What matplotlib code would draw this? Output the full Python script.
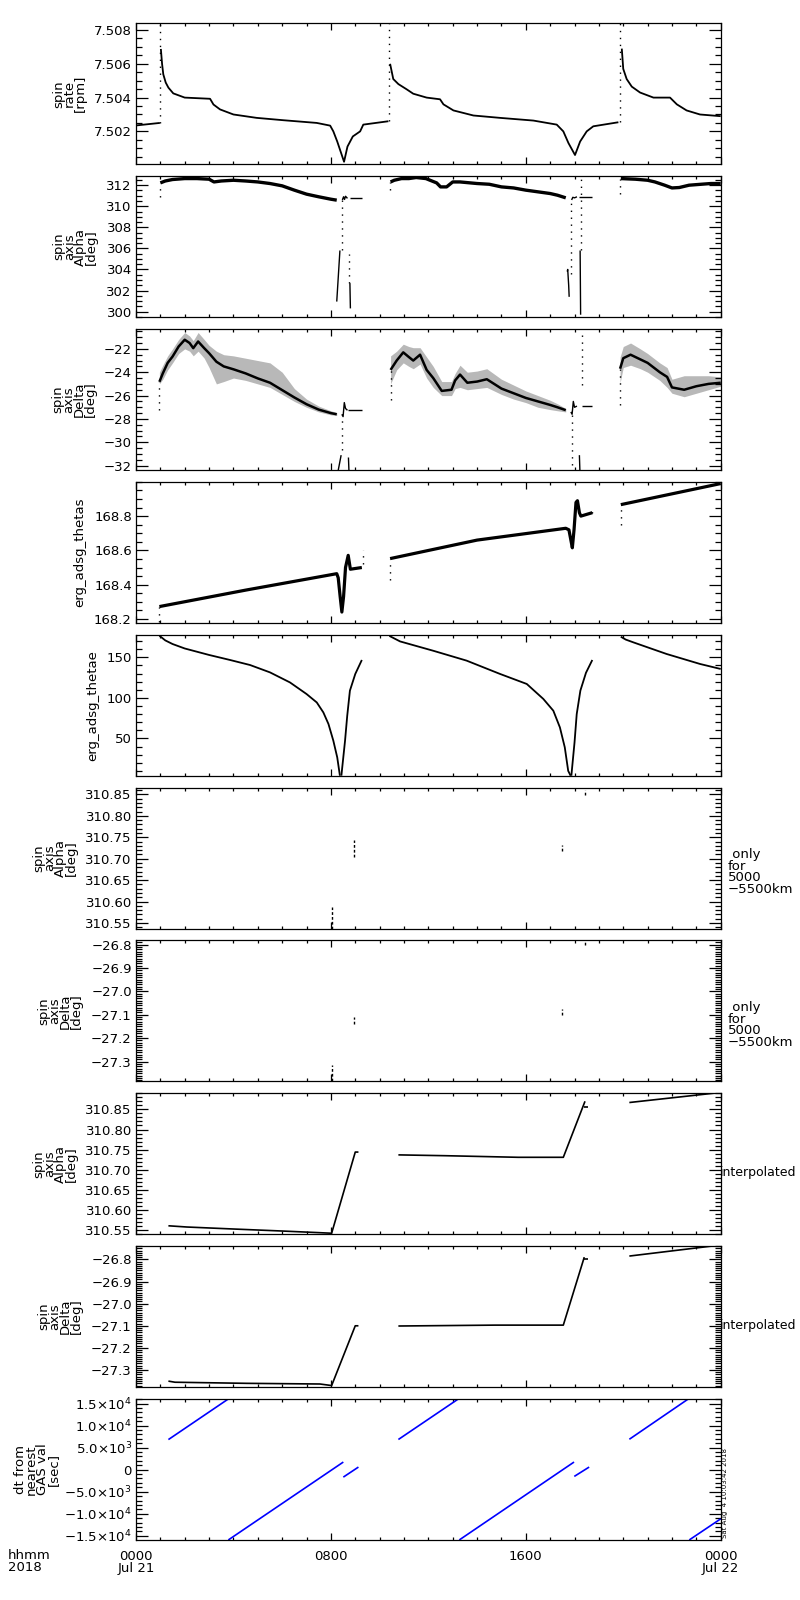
import matplotlib
matplotlib.use('Agg')
import matplotlib.pyplot as plt
from matplotlib.ticker import FixedLocator, FixedFormatter, MultipleLocator

plt.rcParams['font.family'] = ['DejaVu Sans']
plt.rcParams['font.size'] = 9.5
plt.rcParams['axes.linewidth'] = 0.9

M = '\u2212'

# x axis (hours of Jul 21 2018)
hour_major = [0, 8, 16, 24]
hour_labels = ['0000\nJul 21', '0800', '1600', '0000\nJul 22']

# panel 1: spin rate [rpm]
rate_t0 = [0.0, 0.98]
rate_v0 = [7.50235, 7.5025]
rate_t1 = [1.02, 1.07, 1.12, 1.22, 1.33, 1.53, 2.0, 3.04, 3.18, 3.45, 4.0, 4.95, 6.05, 7.42,
           7.97, 8.1, 8.26, 8.4, 8.54, 8.68, 8.9, 9.2, 9.33, 10.36]
rate_v1 = [7.50688, 7.5060, 7.50538, 7.50489, 7.50459, 7.50425, 7.5040, 7.50393, 7.50359, 7.5033,
           7.5030, 7.5028, 7.50266, 7.5025, 7.50234, 7.5020, 7.5014, 7.5008, 7.5002, 7.5011,
           7.5017, 7.5020, 7.5024, 7.5026]
rate_t2 = [10.43, 10.56, 10.77, 11.11, 11.38, 11.93, 12.48, 12.62, 13.03, 13.85, 14.94, 16.31,
           17.27, 17.54, 17.75, 18.02, 18.23, 18.5, 18.77, 19.8]
rate_v2 = [7.5060, 7.5051, 7.5048, 7.50449, 7.50423, 7.5040, 7.5039, 7.5036, 7.50324, 7.50294,
           7.5028, 7.50264, 7.5024, 7.5020, 7.50131, 7.5006, 7.5014, 7.5020, 7.5023, 7.50254]
rate_t3 = [19.94, 20.0, 20.14, 20.35, 20.69, 21.24, 21.92, 22.2, 22.6, 23.15, 24.0]
rate_v3 = [7.5069, 7.5057, 7.5051, 7.50465, 7.5043, 7.5040, 7.5040, 7.5036, 7.50324, 7.5030, 7.5029]
rate_jump_t = [0.98, 10.37, 19.87]
rate_jump_lo = [7.5025, 7.5026, 7.50254]
rate_jump_hi = [7.5084, 7.5084, 7.5084]

# panel 2: spin axis alpha [deg]
alpha_t1 = [1.0, 1.2, 1.5, 2.0, 2.5, 3.0, 3.2, 3.5, 4.0, 4.5, 5.0, 5.5, 6.0, 6.5, 7.0, 7.5, 8.0, 8.24]
alpha_v1 = [312.22, 312.4, 312.54, 312.63, 312.63, 312.57, 312.31, 312.4, 312.47, 312.4, 312.31,
            312.16, 311.94, 311.53, 311.15, 310.9, 310.67, 310.58]
alpha_t2 = [10.45, 10.6, 10.9, 11.2, 11.5, 11.9, 12.07, 12.34, 12.5, 12.75, 13.0, 13.3, 14.0, 14.5,
            15.0, 15.5, 16.0, 16.5, 17.0, 17.3, 17.64]
alpha_v2 = [312.31, 312.47, 312.63, 312.63, 312.73, 312.63, 312.47, 312.22, 311.84, 311.84, 312.31,
            312.31, 312.16, 312.09, 311.84, 311.74, 311.53, 311.37, 311.21, 311.05, 310.8]
alpha_t3 = [19.9, 20.5, 21.0, 21.3, 21.7, 22.0, 22.3, 22.7, 23.2, 23.6, 24.0]
alpha_v3 = [312.63, 312.57, 312.47, 312.31, 312.0, 311.74, 311.78, 312.0, 312.09, 312.16, 312.16]
alpha_seg_t = [[8.24, 8.37], [8.47, 8.52, 8.56, 8.6, 8.68], [8.78, 9.27], [8.78, 8.8],
               [17.7, 17.72, 17.76, 17.78], [17.88, 17.93, 18.0, 18.1], [18.2, 18.72], [18.23, 18.25]]
alpha_seg_v = [[300.95, 305.8], [310.6, 310.9, 310.65, 310.95, 310.75], [310.74, 310.74], [302.7, 300.3],
               [303.8, 304.0, 302.5, 301.4], [310.6, 310.85, 310.8, 310.9], [310.89, 310.89], [305.8, 299.7]]
alpha_dot_t = [8.44, 8.73, 17.86, 18.27, 0.98, 10.43, 19.87]
alpha_dot_lo = [305.8, 302.7, 303.6, 305.8, 310.89, 311.5, 311.2]
alpha_dot_hi = [310.6, 305.5, 310.58, 312.86, 312.2, 312.3, 312.6]

# panel 3: spin axis delta [deg]
delta_t1 = [0.96, 1.1, 1.3, 1.5, 1.75, 2.0, 2.2, 2.35, 2.55, 2.8, 3.0, 3.3, 3.6, 4.0, 4.5, 5.0,
            5.5, 6.0, 6.5, 7.0, 7.5, 8.0, 8.24]
delta_v1 = [-24.82, -24.1, -23.2, -22.66, -21.8, -21.22, -21.5, -21.94, -21.37, -21.94, -22.37,
            -23.1, -23.5, -23.75, -24.1, -24.53, -24.9, -25.53, -26.16, -26.74, -27.2, -27.5, -27.6]
delta_hi1 = [-24.0, -23.4, -22.6, -22.0, -21.2, -20.6, -20.9, -21.3, -20.6, -21.2, -21.7, -22.2,
             -22.5, -22.6, -22.8, -23.0, -23.2, -24.0, -25.4, -26.3, -26.9, -27.3, -27.45]
delta_lo1 = [-25.0, -24.6, -23.8, -23.2, -22.4, -22.0, -22.2, -22.6, -22.2, -22.8, -23.6, -25.0,
             -24.8, -24.5, -24.7, -25.0, -25.3, -25.9, -26.5, -27.0, -27.4, -27.65, -27.7]
delta_t2 = [10.45, 10.7, 10.97, 11.2, 11.38, 11.66, 11.93, 12.2, 12.55, 12.95, 13.1, 13.3, 13.6,
            14.0, 14.4, 15.0, 15.5, 16.0, 16.5, 17.0, 17.3, 17.64]
delta_v2 = [-23.8, -23.0, -22.3, -22.7, -23.0, -22.5, -23.8, -24.5, -25.6, -25.5, -24.7, -24.2,
            -24.9, -24.8, -24.6, -25.4, -25.8, -26.2, -26.5, -26.8, -27.0, -27.25]
delta_hi2 = [-22.6, -22.2, -21.6, -21.8, -21.9, -21.9, -22.7, -23.5, -24.8, -24.8, -24.1, -23.4,
             -24.0, -23.9, -23.7, -24.6, -25.1, -25.6, -26.0, -26.4, -26.7, -27.1]
delta_lo2 = [-25.0, -23.8, -23.2, -23.5, -23.7, -23.3, -24.5, -25.3, -26.0, -26.0, -25.4, -25.3,
             -25.5, -25.4, -25.3, -25.9, -26.3, -26.6, -27.0, -27.2, -27.3, -27.4]
delta_t3 = [19.87, 20.0, 20.3, 20.7, 21.0, 21.5, 21.8, 22.0, 22.5, 23.0, 23.5, 24.0]
delta_v3 = [-23.7, -22.8, -22.5, -22.9, -23.2, -24.0, -24.4, -25.3, -25.5, -25.2, -25.0, -24.9]
delta_hi3 = [-22.7, -21.8, -21.5, -22.0, -22.4, -23.2, -23.6, -24.6, -24.3, -24.3, -24.3, -24.4]
delta_lo3 = [-24.9, -23.6, -23.4, -23.7, -24.0, -24.7, -25.3, -25.8, -26.1, -25.8, -25.5, -25.2]
delta_seg_t = [[8.45, 8.5, 8.55, 8.6, 8.68], [8.72, 9.27], [8.42, 8.3], [8.72, 8.74],
               [17.85, 17.9, 17.95, 18.0, 18.1], [18.3, 18.73], [18.2, 18.22]]
delta_seg_v = [[-27.6, -27.8, -26.6, -27.1, -27.26], [-27.26, -27.26], [-31.1, -32.4], [-31.3, -32.4],
               [-27.4, -27.6, -26.5, -27.0, -26.9], [-26.9, -26.9], [-31.1, -32.4]]
delta_dot_t = [8.47, 17.88, 18.3, 0.96, 10.45, 19.87]
delta_dot_lo = [-30.7, -31.9, -25.1, -27.26, -26.4, -26.8]
delta_dot_hi = [-27.7, -27.5, -20.8, -24.82, -23.8, -23.7]

# panel 4: erg_adsg_thetas
thetas_t1 = [0.96, 4.5, 8.24, 8.3, 8.38, 8.45, 8.52, 8.6, 8.71, 8.8, 9.27]
thetas_v1 = [168.272, 168.368, 168.464, 168.44, 168.33, 168.24, 168.33, 168.5, 168.571, 168.49, 168.5]
thetas_t2 = [10.43, 14.0, 17.64, 17.77, 17.85, 17.91, 17.98, 18.06, 18.12, 18.2, 18.26, 18.73]
thetas_v2 = [168.552, 168.66, 168.729, 168.72, 168.66, 168.615, 168.72, 168.88, 168.89, 168.82,
             168.80, 168.82]
thetas_t3 = [19.9, 24.0]
thetas_v3 = [168.867, 168.99]
thetas_dot_t = [0.96, 10.43, 19.9, 9.3, 18.73]
thetas_dot_lo = [168.18, 168.425, 168.75, 168.52, 168.82]
thetas_dot_hi = [168.272, 168.552, 168.867, 168.6, 168.85]

# panel 5: erg_adsg_thetae
thetae_t1 = [0.96, 1.2, 1.5, 2.0, 3.0, 3.86, 4.68, 5.5, 6.32, 7.0, 7.42, 7.69, 7.9, 8.1, 8.26, 8.37]
thetae_v1 = [176.8, 171, 166.5, 161, 153, 146.8, 140.6, 131.5, 119.1, 104.8, 94.4, 82.1, 67.8, 47.2, 26.6, 4]
thetae_t1b = [8.43, 8.58, 8.67, 8.78, 9.0, 9.27]
thetae_v1b = [4, 47, 77.9, 108.9, 129.5, 146.8]
thetae_t2 = [10.4, 10.84, 12.2, 13.57, 14.94, 16.04, 16.72, 17.13, 17.4, 17.6, 17.74, 17.84]
thetae_v2 = [176.5, 169.7, 158.2, 146, 129.6, 117.2, 98.7, 84.2, 63.6, 39, 10, 4]
thetae_t2b = [17.87, 18.0, 18.09, 18.24, 18.47, 18.73]
thetae_v2b = [4, 45, 80, 109, 131, 146.8]
thetae_t3 = [19.9, 20.1, 20.42, 21.78, 23.15, 24.0]
thetae_v3 = [175.5, 172, 168.5, 154.2, 141.9, 135.7]

# panels 6, 7: only for 5000-5500 km
only_t = [8.05, 8.95, 17.5, 18.42]
only_alpha_lo = [310.537, 310.705, 310.718, 310.848]
only_alpha_hi = [310.587, 310.744, 310.733, 310.86]
only_delta_lo = [-27.385, -27.14, -27.1, -26.80]
only_delta_hi = [-27.314, -27.111, -27.076, -26.787]

# panels 8, 9: interpolated
ialpha_t1 = [1.33, 2.08, 4.0, 6.0, 7.5, 8.03, 9.0, 9.13]
ialpha_v1 = [310.561, 310.558, 310.553, 310.548, 310.544, 310.5425, 310.744, 310.744]
ialpha_t2 = [10.77, 12.68, 15.69, 17.54, 18.43]
ialpha_v2 = [310.737, 310.735, 310.731, 310.731, 310.87]
ialpha_t2b = [18.38, 18.57]
ialpha_v2b = [310.855, 310.855]
ialpha_t3 = [20.25, 24.0]
ialpha_v3 = [310.867, 310.892]
idelta_t1 = [1.33, 1.6, 4.54, 7.55, 8.03, 9.0, 9.13]
idelta_v1 = [-27.35, -27.355, -27.36, -27.363, -27.37, -27.1, -27.1]
idelta_t2 = [10.77, 14.74, 17.54, 18.4]
idelta_v2 = [-27.101, -27.097, -27.097, -26.79]
idelta_t2b = [18.4, 18.56]
idelta_v2b = [-26.8, -26.8]
idelta_t3 = [20.25, 24.0]
idelta_v3 = [-26.785, -26.735]

# panel 10: dt from nearest GAS val [sec]
dt_t = [[1.33, 3.79], [3.79, 8.51], [8.51, 9.13], [10.77, 13.23], [13.27, 17.98],
        [17.99, 18.6], [20.25, 22.67], [22.71, 24.0]]
dt_v = [[6830, 16050], [-15950, 1730], [-1690, 590], [6850, 16050], [-15950, 1730],
        [-1530, 590], [6900, 16050], [-15950, -11160]]


def setupAxis(ax, ylim, majors, labels, minor, ylabel, labelx, labelsize=9.5):
    ax.set_xlim(0, 24)
    ax.set_ylim(*ylim)
    ax.yaxis.set_major_locator(FixedLocator(majors))
    ax.yaxis.set_major_formatter(FixedFormatter(labels))
    ax.yaxis.set_minor_locator(MultipleLocator(minor))
    ax.xaxis.set_major_locator(FixedLocator(hour_major))
    ax.xaxis.set_minor_locator(MultipleLocator(1))
    ax.tick_params(which='both', direction='in', top=True, right=True, width=0.9)
    ax.tick_params(axis='y', which='major', length=8.6, pad=3)
    ax.tick_params(axis='y', which='minor', length=4.3)
    ax.tick_params(axis='x', which='major', length=5, pad=7)
    ax.tick_params(axis='x', which='minor', length=2.5)
    ax.tick_params(axis='x', labelbottom=False)
    ax.set_ylabel(ylabel, linespacing=0.8, fontsize=labelsize)
    ax.yaxis.set_label_coords((labelx - 136) / 584.7, 0.5)


def seg(ax, t, v, lw=1.2, color='k'):
    ax.plot(t, v, color=color, lw=lw, solid_capstyle='butt')


def dots(ax, t, lo, hi):
    ax.vlines(t, lo, hi, colors='k', lw=1.0, linestyles=[(0, (1, 4))])


fig = plt.figure(figsize=(8, 16), dpi=100)
axes = []
for i in range(10):
    top = 23.3 + i * 152.85
    axes.append(fig.add_axes([136 / 800, 1 - (top + 141) / 1600, 584.7 / 800, 141 / 1600]))

ax = axes[0]
setupAxis(ax, (7.50005, 7.5084), [7.502, 7.504, 7.506, 7.508],
          ['7.502', '7.504', '7.506', '7.508'], 0.0005, 'spin\nrate\n[rpm]', 87)
for t, v in [(rate_t0, rate_v0), (rate_t1, rate_v1), (rate_t2, rate_v2), (rate_t3, rate_v3)]:
    seg(ax, t, v, lw=1.3)
dots(ax, rate_jump_t, rate_jump_lo, rate_jump_hi)

ax = axes[1]
setupAxis(ax, (299.47, 312.86), [300, 302, 304, 306, 308, 310, 312],
          ['300', '302', '304', '306', '308', '310', '312'], 0.5, 'spin\naxis\nAlpha\n[deg]', 98)
for t, v in [(alpha_t1, alpha_v1), (alpha_t2, alpha_v2), (alpha_t3, alpha_v3)]:
    seg(ax, t, v, lw=2.4)
for t, v in zip(alpha_seg_t, alpha_seg_v):
    seg(ax, t, v, lw=1.0)
dots(ax, alpha_dot_t, alpha_dot_lo, alpha_dot_hi)

ax = axes[2]
setupAxis(ax, (-32.37, -20.3), [-32, -30, -28, -26, -24, -22],
          [M + '32', M + '30', M + '28', M + '26', M + '24', M + '22'], 0.5,
          'spin\naxis\nDelta\n[deg]', 97)
for t, v, hi, lo in [(delta_t1, delta_v1, delta_hi1, delta_lo1), (delta_t2, delta_v2, delta_hi2, delta_lo2),
                     (delta_t3, delta_v3, delta_hi3, delta_lo3)]:
    ax.fill_between(t, lo, hi, color='k', alpha=0.28, lw=0)
    seg(ax, t, v, lw=1.8)
for t, v in zip(delta_seg_t, delta_seg_v):
    seg(ax, t, v, lw=1.0)
dots(ax, delta_dot_t, delta_dot_lo, delta_dot_hi)

ax = axes[3]
setupAxis(ax, (168.177, 169.0), [168.2, 168.4, 168.6, 168.8],
          ['168.2', '168.4', '168.6', '168.8'], 0.05, 'erg_adsg_thetas', 86)
for t, v in [(thetas_t1, thetas_v1), (thetas_t2, thetas_v2), (thetas_t3, thetas_v3)]:
    seg(ax, t, v, lw=2.3)
dots(ax, thetas_dot_t, thetas_dot_lo, thetas_dot_hi)

ax = axes[4]
setupAxis(ax, (4, 178), [50, 100, 150], ['50', '100', '150'], 10, 'erg_adsg_thetae', 99)
for t, v in [(thetae_t1, thetae_v1), (thetae_t1b, thetae_v1b), (thetae_t2, thetae_v2),
             (thetae_t2b, thetae_v2b), (thetae_t3, thetae_v3)]:
    seg(ax, t, v, lw=1.3)

alpha_ticks = [310.55, 310.60, 310.65, 310.70, 310.75, 310.80, 310.85]
alpha_labels = ['%.2f' % a for a in alpha_ticks]
delta_ticks = [-27.3, -27.2, -27.1, -27.0, -26.9, -26.8]
delta_labels = [M + '%.1f' % -d for d in delta_ticks]

ax = axes[5]
setupAxis(ax, (310.537, 310.866), alpha_ticks, alpha_labels, 0.01, 'spin\naxis\nAlpha\n[deg]', 78)
for t, lo, hi in zip(only_t, only_alpha_lo, only_alpha_hi):
    ax.plot([t, t], [lo, hi], color='k', lw=1.0, ls=(0, (2, 1.5)))
ax.text(1.0125, 0.40, ' only\nfor\n5000\n' + M + '5500km', transform=ax.transAxes,
        ha='left', va='center', linespacing=0.85)

ax = axes[6]
setupAxis(ax, (-27.385, -26.782), delta_ticks, delta_labels, 0.01, 'spin\naxis\nDelta\n[deg]', 83)
for t, lo, hi in zip(only_t, only_delta_lo, only_delta_hi):
    ax.plot([t, t], [lo, hi], color='k', lw=1.0, ls=(0, (2, 1.5)))
ax.text(1.0125, 0.40, ' only\nfor\n5000\n' + M + '5500km', transform=ax.transAxes,
        ha='left', va='center', linespacing=0.85)

ax = axes[7]
setupAxis(ax, (310.54, 310.89), alpha_ticks, alpha_labels, 0.01, 'spin\naxis\nAlpha\n[deg]', 78)
for t, v in [(ialpha_t1, ialpha_v1), (ialpha_t2, ialpha_v2), (ialpha_t2b, ialpha_v2b), (ialpha_t3, ialpha_v3)]:
    seg(ax, t, v, lw=1.2)
ax.text(0.999, 0.44, 'interpolated', transform=ax.transAxes, ha='left', va='center', fontsize=9)

ax = axes[8]
setupAxis(ax, (-27.377, -26.74), delta_ticks, delta_labels, 0.01, 'spin\naxis\nDelta\n[deg]', 83)
for t, v in [(idelta_t1, idelta_v1), (idelta_t2, idelta_v2), (idelta_t2b, idelta_v2b), (idelta_t3, idelta_v3)]:
    seg(ax, t, v, lw=1.2)
ax.text(0.999, 0.44, 'interpolated', transform=ax.transAxes, ha='left', va='center', fontsize=9)

ax = axes[9]
dt_ticks = [-15000, -10000, -5000, 0, 5000, 10000, 15000]
dt_labels = [r'${-}1.5{\times}10^{4}$', r'${-}1.0{\times}10^{4}$', r'${-}5.0{\times}10^{3}$', '0',
             r'$5.0{\times}10^{3}$', r'$1.0{\times}10^{4}$', r'$1.5{\times}10^{4}$']
setupAxis(ax, (-15950, 16050), dt_ticks, dt_labels, 1000, 'dt from\nnearest\nGAS val\n[sec]', 60)
for t, v in zip(dt_t, dt_v):
    seg(ax, t, v, lw=1.2, color='blue')
ax.tick_params(axis='x', labelbottom=True)
ax.set_xticklabels(hour_labels)
for lbl in ax.get_xticklabels():
    lbl.set_linespacing(0.9)

fig.text(8 / 800, 1 - 1549 / 1600, 'hhmm\n2018', ha='left', va='top', linespacing=0.9)
fig.text(725 / 800, 1 - 1538 / 1600, 'Sat Aug  4 10:03:42 2018', rotation=90, fontsize=5,
         ha='center', va='bottom')

fig.savefig('out.png', dpi=100)
